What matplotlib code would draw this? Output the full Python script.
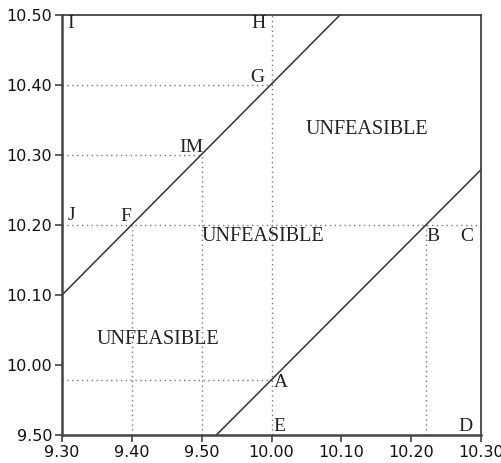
import matplotlib
matplotlib.use("Agg")
import matplotlib.pyplot as plt

# Axis tick labels (evenly spaced positions, broken scale)
x_ticklabels = ["9.30", "9.40", "9.50", "10.00", "10.10", "10.20", "10.30"]
y_ticklabels = ["9.50", "10.00", "10.10", "10.20", "10.30", "10.40", "10.50"]

# Boundary lines (positions on the tick grid)
upper_x = [0.0, 3.98]
upper_y = [2.0, 6.0]
lower_x = [2.21, 6.0]
lower_y = [0.0, 3.79]

# Dotted guides: vertical (x, y0, y1) and horizontal (y, x0, x1)
vguides = [(1.0, 0.0, 3.0), (2.0, 0.0, 4.0), (3.0, 0.0, 6.0), (5.21, 0.0, 3.0)]
hguides = [(5.0, 0.0, 3.0), (4.0, 0.0, 2.0), (3.0, 0.0, 6.0), (0.79, 0.0, 3.0)]

# Point labels (x, y, text)
point_labels = [
    (0.08, 5.88, "I"), (2.71, 5.88, "H"), (2.69, 5.1, "G"), (1.68, 4.1, "IM"),
    (0.08, 3.13, "J"), (0.84, 3.12, "F"), (5.22, 2.84, "B"), (5.7, 2.84, "C"),
    (3.03, 0.75, "A"), (3.03, 0.12, "E"), (5.68, 0.12, "D"),
]
region_labels = [(4.36, 4.36, "UNFEASIBLE"), (2.87, 2.84, "UNFEASIBLE"), (1.37, 1.37, "UNFEASIBLE")]

fig = plt.figure(figsize=(5.01, 4.63), dpi=100)
ax = fig.add_axes([62/501, 28/463, 419/501, 420/463])
ax.set_xlim(0, 6)
ax.set_ylim(0, 6)

for x, y0, y1 in vguides:
    ax.plot([x, x], [y0, y1], linestyle=(0, (1, 2.5)), color="#777777", lw=1.0)
for y, x0, x1 in hguides:
    ax.plot([x0, x1], [y, y], linestyle=(0, (1, 2.5)), color="#777777", lw=1.0)

ax.plot(upper_x, upper_y, color="#333333", lw=1.1, clip_on=False)
ax.plot(lower_x, lower_y, color="#333333", lw=1.1, clip_on=False)

serif = "Liberation Serif"
for x, y, t in point_labels:
    ax.text(x, y, t, ha="left", va="center", fontsize=14, family=serif, color="#222222")
for x, y, t in region_labels:
    ax.text(x, y, t, ha="center", va="center", fontsize=14.5, family=serif, color="#222222")

ax.set_xticks(range(7))
ax.set_xticklabels(x_ticklabels)
ax.set_yticks(range(7))
ax.set_yticklabels(y_ticklabels)
ax.tick_params(direction="out", length=5, width=1.2, color="#444444", labelsize=11.5, pad=2)
for lab in ax.get_xticklabels() + ax.get_yticklabels():
    lab.set_family("DejaVu Sans")
    lab.set_color("#111111")
for s in ["left", "bottom"]:
    ax.spines[s].set_linewidth(1.8)
    ax.spines[s].set_color("#444444")
for s in ["top", "right"]:
    ax.spines[s].set_linewidth(1.3)
    ax.spines[s].set_color("#444444")

fig.savefig("out.png", dpi=100)
